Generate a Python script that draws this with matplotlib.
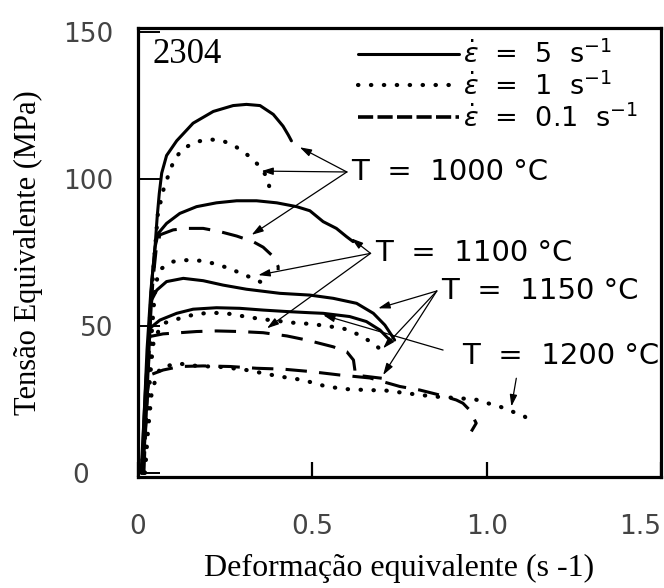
import matplotlib
matplotlib.use('Agg')
import matplotlib.pyplot as plt
from matplotlib.lines import Line2D
from matplotlib.transforms import ScaledTranslation

plt.rcParams['mathtext.fontset'] = 'dejavusans'

# curves: strain (x) and equivalent stress in MPa (y)
# solid = 5 s-1, dotted = 1 s-1, dashed = 0.1 s-1
s1_x = [0.009, 0.017, 0.026, 0.037, 0.049, 0.055, 0.061, 0.068, 0.082, 0.111, 0.158, 0.216, 0.273, 0.311, 0.350, 0.388, 0.416, 0.431, 0.440]
s1_y = [0, 18, 42, 62, 77, 87, 95, 102, 108, 113, 119, 123, 125, 125.4, 125, 122, 118, 115, 113]

d1_x = [0.011, 0.023, 0.034, 0.046, 0.057, 0.072, 0.092, 0.106, 0.130, 0.168, 0.206, 0.244, 0.283, 0.321, 0.350, 0.369, 0.378, 0.380]
d1_y = [0, 25, 52, 72, 88, 96, 103, 107, 110.4, 112.7, 113.5, 113, 110.8, 107.6, 104.2, 100.8, 96.8, 95.3]

s2_x = [0.011, 0.023, 0.032, 0.040, 0.049, 0.058, 0.082, 0.120, 0.168, 0.225, 0.283, 0.340, 0.398, 0.455, 0.493, 0.531, 0.569, 0.598, 0.617]
s2_y = [0, 25, 48.6, 65.6, 76.9, 81.5, 84.9, 88.3, 90.6, 91.9, 92.6, 92.6, 91.9, 90.6, 89.2, 85.5, 83.2, 80.4, 78.7]

l1_x = [0.014, 0.026, 0.034, 0.043, 0.052, 0.063, 0.101, 0.140, 0.187, 0.235, 0.283, 0.330, 0.359, 0.388, 0.402, 0.402]
l1_y = [0, 25, 48.6, 65.6, 75.9, 81.0, 82.7, 83.2, 83.2, 82.1, 80.6, 78.7, 76.8, 73.6, 70.2, 69.0]

d2_x = [0.017, 0.029, 0.040, 0.049, 0.057, 0.068, 0.101, 0.140, 0.178, 0.216, 0.254, 0.292, 0.327, 0.364]
d2_y = [0, 25, 48.6, 62.2, 67.3, 69.6, 71.9, 72.4, 72.2, 71.3, 69.9, 68.1, 66.3, 64.3]

s3_x = [0.014, 0.023, 0.029, 0.034, 0.039, 0.054, 0.082, 0.130, 0.187, 0.244, 0.311, 0.407, 0.493, 0.560, 0.627, 0.675, 0.708, 0.727, 0.736]
s3_y = [0, 18, 35, 48.6, 58.8, 62.2, 65.1, 66.2, 65.4, 63.9, 62.5, 61.1, 60.5, 59.4, 57.7, 54.3, 50.3, 46.9, 45.2]

s4_x = [0.011, 0.017, 0.023, 0.029, 0.034, 0.063, 0.111, 0.158, 0.225, 0.292, 0.359, 0.427, 0.493, 0.531, 0.607, 0.655, 0.694, 0.717]
s4_y = [0, 18, 31.6, 41.8, 49.2, 52.0, 54.3, 55.7, 56.2, 56.0, 55.4, 54.9, 54.5, 54.3, 53.2, 51.5, 48.6, 45.8]

d3_x = [0.017, 0.026, 0.034, 0.043, 0.052, 0.073, 0.120, 0.168, 0.216, 0.264, 0.321, 0.378, 0.445, 0.493, 0.521, 0.588, 0.636, 0.674, 0.698, 0.703]
d3_y = [0, 18, 31.6, 43.5, 46.9, 50.9, 52.6, 54.1, 54.5, 54.1, 52.9, 52.0, 51.1, 50.7, 50.3, 49.2, 46.9, 44.1, 41.8, 39.6]

l2_x = [0.017, 0.023, 0.029, 0.032, 0.034, 0.072, 0.168, 0.225, 0.292, 0.359, 0.427, 0.484, 0.560, 0.599, 0.618, 0.622, 0.622, 0.699]
l2_y = [0, 18, 31.6, 43.5, 46.4, 47.3, 48.1, 48.3, 48.1, 47.7, 46.6, 45.2, 42.9, 41.2, 38.4, 35.0, 33.3, 32.2]

l3_x = [0.014, 0.020, 0.026, 0.034, 0.072, 0.120, 0.187, 0.264, 0.340, 0.416, 0.493, 0.579, 0.665, 0.751, 0.808, 0.865, 0.913, 0.932, 0.951, 0.970, 0.956]
l3_y = [0, 14.6, 26.5, 33.3, 35.0, 36.2, 36.4, 36.2, 35.6, 35.3, 34.5, 33.3, 32.3, 29.4, 28.2, 26.5, 24.8, 23.7, 21.4, 16.9, 14.1]

d4_x = [0.020, 0.029, 0.040, 0.063, 0.111, 0.168, 0.244, 0.311, 0.359, 0.407, 0.473, 0.540, 0.598, 0.655, 0.712, 0.770, 0.846, 0.923, 0.970, 1.003, 1.037, 1.109, 1.133]
d4_y = [0, 14.6, 28.2, 35.6, 37.3, 36.4, 36.0, 35.0, 33.9, 32.8, 31.6, 29.4, 28.5, 28.2, 28.0, 27.1, 26.0, 25.4, 24.9, 23.7, 22.6, 19.2, 16.3]

x_ticks = [0, 0.5, 1.0, 1.5]
x_labels = ['0', '0.5', '1.0', '1.5']
y_ticks = [0, 50, 100, 150]
y_labels = ['0', '50', '100', '150']
rate_labels = [r'$\dot{\epsilon}$  =  5  s$^{-1}$',
               r'$\dot{\epsilon}$  =  1  s$^{-1}$',
               r'$\dot{\epsilon}$  =  0.1  s$^{-1}$']

solid = dict(color='black', lw=2.2, ls='-', solid_capstyle='round', solid_joinstyle='round')
dotted = dict(color='black', lw=3.0, ls=(0, (0.1, 3.0)), dash_capstyle='round')
dashed = dict(color='black', lw=2.2, ls=(0, (7, 4)), dash_capstyle='butt')

fig = plt.figure(figsize=(6.64, 5.88), dpi=100)
ax = fig.add_axes([0.2078, 0.1888, 0.7877, 0.7636])

h_solid, = ax.plot(s1_x, s1_y, **solid)
ax.plot(s2_x, s2_y, **solid)
ax.plot(s3_x, s3_y, **solid)
ax.plot(s4_x, s4_y, **solid)
ax.plot(d1_x, d1_y, **dotted)
ax.plot(d2_x, d2_y, **dotted)
ax.plot(d3_x, d3_y, **dotted)
ax.plot(d4_x, d4_y, **dotted)
ax.plot(l1_x, l1_y, **dashed)
ax.plot(l2_x, l2_y, **dashed)
ax.plot(l3_x, l3_y, **dashed)

ax.set_xlim(0, 1.5)
ax.set_ylim(-1.4, 151.4)
for sp in ax.spines.values():
    sp.set_linewidth(2.3)

ax.set_xticks(x_ticks)
ax.set_xticklabels(x_labels, fontsize=19, color='#444444', family='DejaVu Sans')
ax.set_yticks(y_ticks)
ax.set_yticklabels(y_labels, fontsize=19, color='#444444', family='DejaVu Sans')
ax.tick_params(axis='x', direction='in', length=11, width=1.6, pad=27)
ax.tick_params(axis='y', direction='in', length=16, width=1.4, pad=18)
ax.get_xticklabels()[-1].set_ha('right')
zero_lab = ax.get_yticklabels()[0]
zero_lab.set_transform(zero_lab.get_transform() + ScaledTranslation(-0.24, 0, fig.dpi_scale_trans))

ax.set_xlabel('Deformação equivalente (s -1)', family='Liberation Serif', fontsize=23, labelpad=10)
ax.set_ylabel('Tensão Equivalente (MPa)', family='Liberation Serif', fontsize=22, labelpad=14)

ax.text(0.027, 0.942, '2304', transform=ax.transAxes, family='Liberation Serif',
        fontsize=25, va='center', ha='left')

leg_dash = Line2D([], [], color='black', lw=2.6, ls=(0, (4.2, 1.2)))
leg_dot = Line2D([], [], **dotted)
ax.legend([h_solid, leg_dot, leg_dash], rate_labels, loc='upper left',
          bbox_to_anchor=(0.385, 1.014), frameon=False, handlelength=3.7,
          handletextpad=0.15, labelspacing=0.12, borderpad=0.2,
          prop={'family': 'DejaVu Sans', 'size': 19.5})

arrow = dict(arrowstyle='-|>,head_length=0.7,head_width=0.22', color='black',
             lw=0.9, shrinkA=0, shrinkB=0)
notes = [
    ('T  =  1000 °C', (0.599, 102.4), [(0.464, 110.8), (0.354, 102.7), (0.326, 81.0)]),
    ('T  =  1100 °C', (0.667, 74.7), [(0.612, 79.8), (0.345, 67.3), (0.370, 49.2)]),
    ('T  =  1150 °C', (0.857, 61.9), [(0.689, 56.0), (0.703, 42.4), (0.703, 33.3)]),
]
for label, origin, targets in notes:
    ax.text(origin[0] + 0.012, origin[1], label, fontsize=21, family='DejaVu Sans',
            va='center', ha='left')
    for tgt in targets:
        ax.annotate('', xy=tgt, xytext=origin, arrowprops=arrow)

ax.text(0.931, 39.8, 'T  =  1200 °C', fontsize=21, family='DejaVu Sans', va='center', ha='left')
ax.annotate('', xy=(0.531, 53.7), xytext=(0.875, 41.8), arrowprops=arrow)
ax.annotate('', xy=(1.071, 22.6), xytext=(1.085, 32.2), arrowprops=arrow)

fig.savefig('out.png', dpi=100)
